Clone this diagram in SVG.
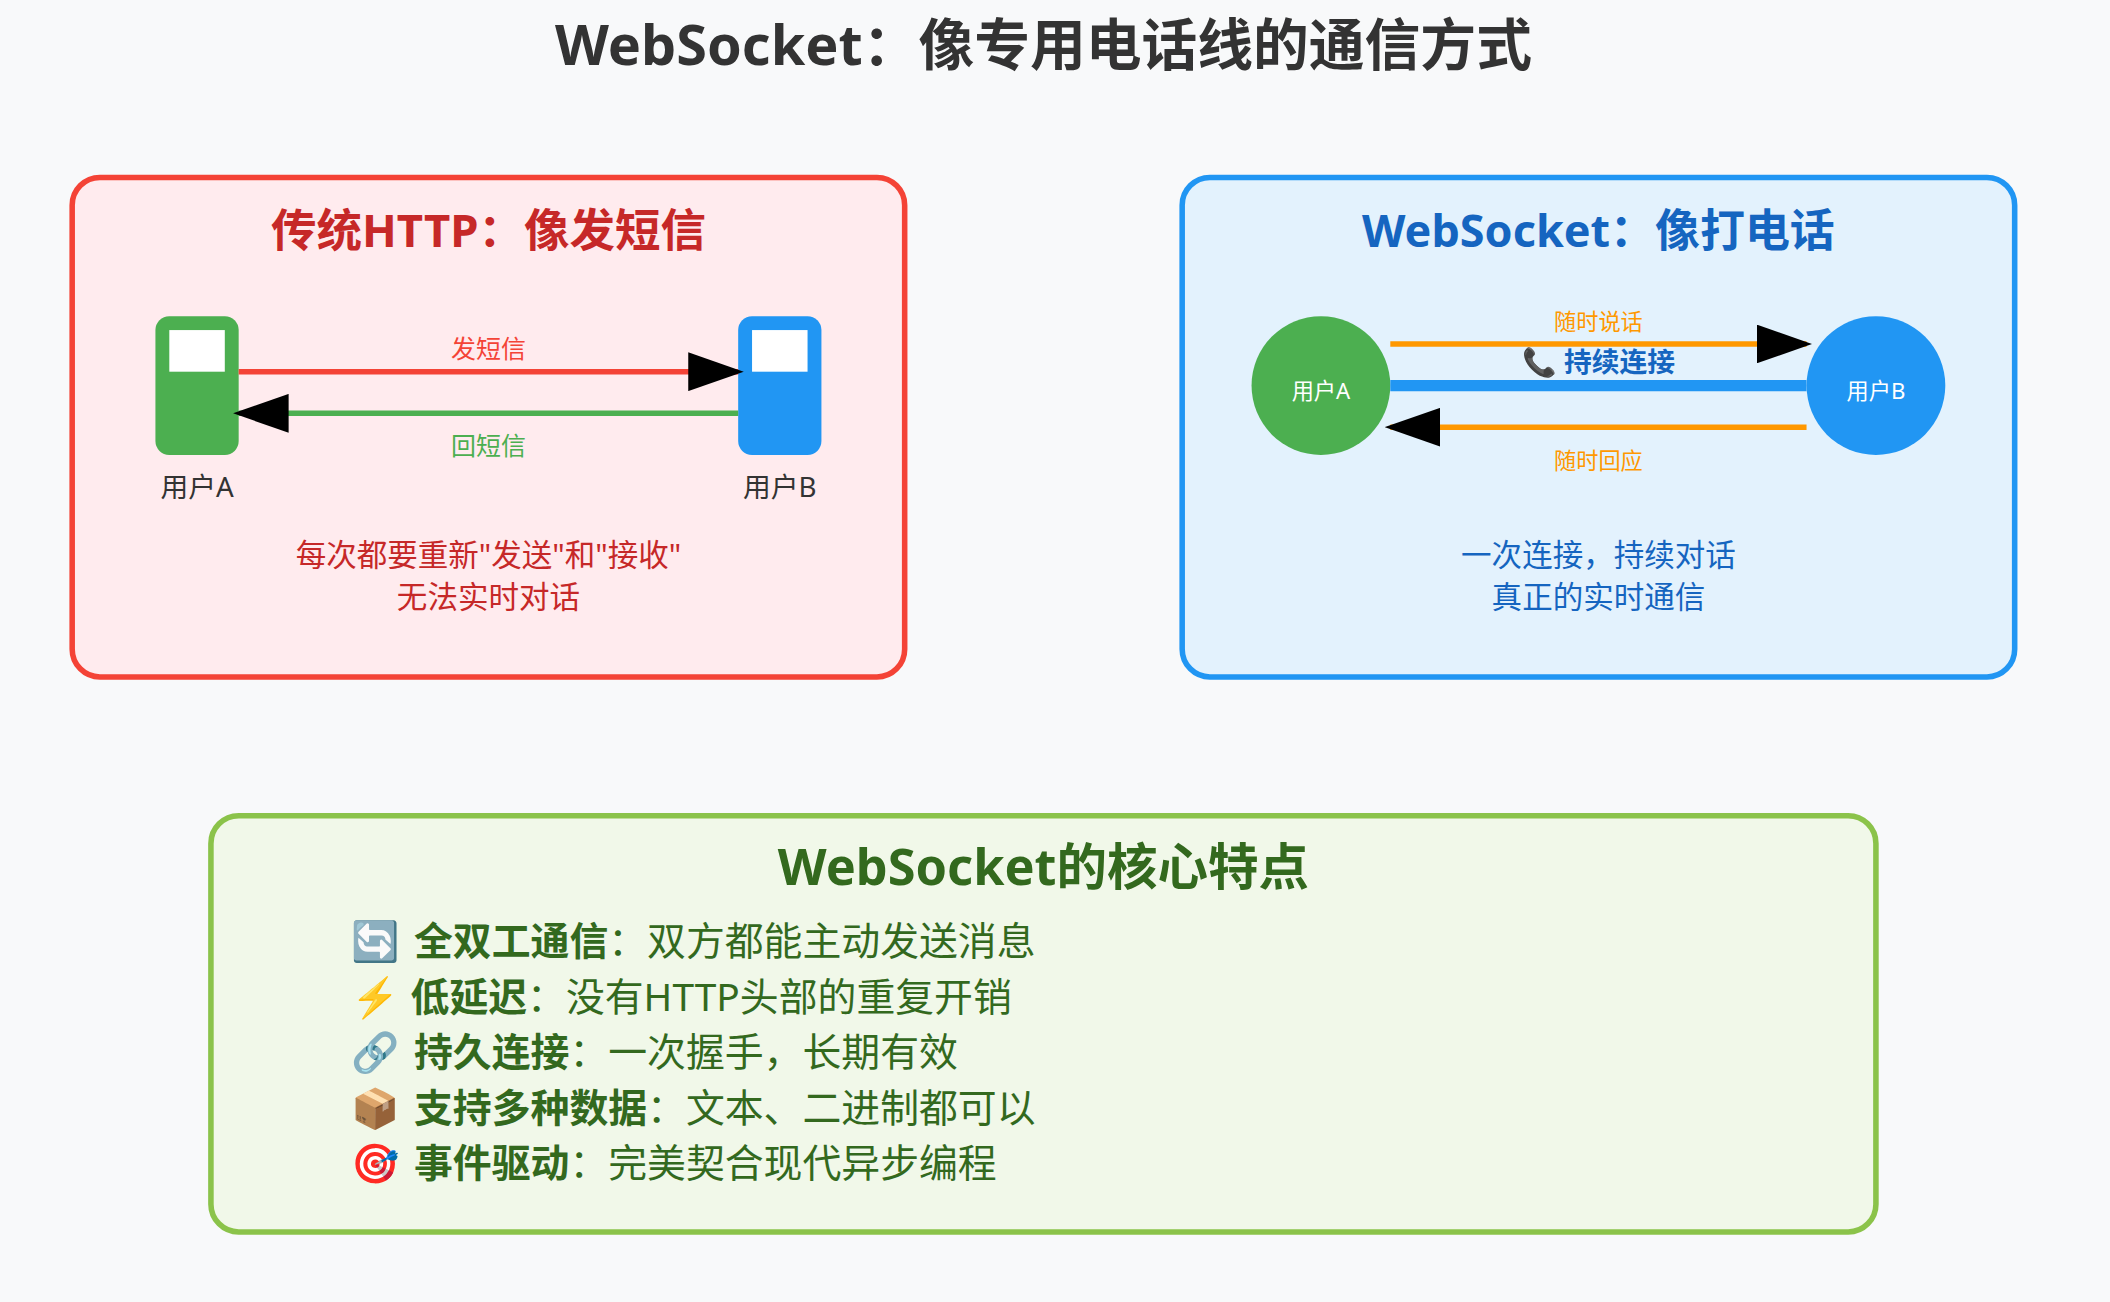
<svg xmlns="http://www.w3.org/2000/svg" width="2110" height="1302" viewBox="0 0 2110 1302">
<style>
text{font-family:"Noto Sans","Noto Sans CJK SC",sans-serif;text-anchor:middle}
.b{font-weight:700}
.s{font-size:32.8px;font-weight:700}
.l{font-size:18px}
.u{font-size:20px;fill:#333}
.n{font-size:22px}
.o{font-size:16px;fill:#ff9800}
.w{font-size:16px;fill:#fff}
.r{fill:#c62828}
.c{fill:#1565c0}
.i{font-size:28px;fill:#33691e;text-anchor:start}
.a{fill:none;stroke-width:4}
</style>
<defs><marker id="arrow" markerWidth="10" markerHeight="7" refX="9" refY="3.5" orient="auto"><polygon points="0 0,10 3.5,0 7"/></marker></defs>
<rect width="2110" height="1302" fill="#f8f9fa"/>
<g transform="translate(2.8,38.7) scale(1.3875)">
<g id="title"><text x="750" y="18.7" class="b" font-size="40.2" fill="#333">WebSocket：像专用电话线的通信方式</text></g>
<g id="http-panel"><rect x="50" y="100" width="600" height="360" rx="20" fill="#ffebee" stroke="#f44336" stroke-width="4"/>
<text x="350" y="150" class="s r">传统HTTP：像发短信</text>
<text x="350" y="380" class="n r">每次都要重新"发送"和"接收"</text>
<text x="350" y="410" class="n r">无法实时对话</text></g>
<g id="ws-panel"><rect x="850" y="100" width="600" height="360" rx="20" fill="#e3f2fd" stroke="#2196f3" stroke-width="4"/>
<text x="1150" y="150" class="b c" font-size="32.4">WebSocket：像打电话</text>
<text x="1150" y="380" class="n c">一次连接，持续对话</text>
<text x="1150" y="410" class="n c">真正的实时通信</text></g>
<g id="http-user-a"><rect x="110" y="200" width="60" height="100" rx="10" fill="#4caf50"/><rect x="120" y="210" width="40" height="30" fill="#fff"/><text x="140" y="330" class="u">用户A</text></g>
<g id="http-user-b"><rect x="530" y="200" width="60" height="100" rx="10" fill="#2196f3"/><rect x="540" y="210" width="40" height="30" fill="#fff"/><text x="560" y="330" class="u">用户B</text></g>
<g id="ws-user-a"><circle cx="950" cy="250" r="50" fill="#4caf50"/><text x="950" y="260" class="w">用户A</text></g>
<g id="ws-user-b"><circle cx="1350" cy="250" r="50" fill="#2196f3"/><text x="1350" y="260" class="w">用户B</text></g>
<g id="connectors">
<line x1="170" y1="240" x2="530" y2="240" class="a" stroke="#f44336" marker-end="url(#arrow)"/>
<line x1="530" y1="270" x2="170" y2="270" class="a" stroke="#4caf50" marker-end="url(#arrow)"/>
<line x1="1000" y1="220" x2="1300" y2="220" class="a" stroke="#ff9800" marker-end="url(#arrow)"/>
<line x1="1000" y1="250" x2="1300" y2="250" fill="none" stroke="#2196f3" stroke-width="8"/>
<line x1="1300" y1="280" x2="1000" y2="280" class="a" stroke="#ff9800" marker-end="url(#arrow)"/>
</g>
<g id="connector-labels">
<text x="350" y="230" class="l" fill="#f44336">发短信</text>
<text x="350" y="300" class="l" fill="#4caf50">回短信</text>
<text x="1150" y="210" class="o">随时说话</text>
<text x="1150" y="240" class="c b" font-size="20">📞 持续连接</text>
<text x="1150" y="310" class="o">随时回应</text>
</g>
<g id="features"><rect x="150" y="560" width="1200" height="300" rx="20" fill="#f1f8e9" stroke="#8bc34a" stroke-width="4"/>
<text x="750" y="610" class="b" font-size="36.4" fill="#33691e">WebSocket的核心特点</text>
<text x="251" y="660.7" class="i">🔄 <tspan class="b" dx="3.5">全双工通信</tspan>：双方都能主动发送消息</text>
<text x="251" y="700.7" class="i">⚡ <tspan class="b" dx="1">低延迟</tspan>：没有HTTP头部的重复开销</text>
<text x="251" y="740.7" class="i">🔗 <tspan class="b" dx="3.5">持久连接</tspan>：一次握手，长期有效</text>
<text x="251" y="780.7" class="i">📦 <tspan class="b" dx="3.5">支持多种数据</tspan>：文本、二进制都可以</text>
<text x="251" y="820.7" class="i">🎯 <tspan class="b" dx="3.5">事件驱动</tspan>：完美契合现代异步编程</text>
</g>
</g>
</svg>
